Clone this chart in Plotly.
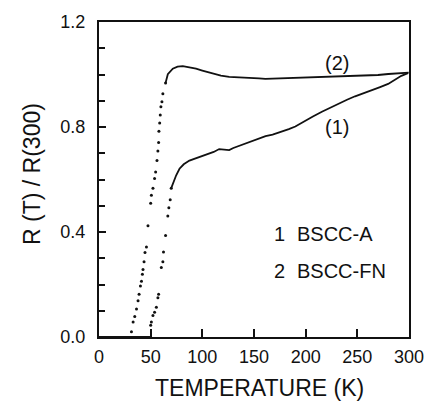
import plotly.graph_objects as go

# Curve (1) BSCC-A
T1_trans = [50.0, 50.7, 52.2, 53.8, 55.5, 57.0, 57.7, 60.3, 61.8, 62.4, 64.4, 66.6, 67.6, 68.9, 69.9]
R1_trans = [0.045, 0.057, 0.082, 0.094, 0.113, 0.150, 0.163, 0.265, 0.287, 0.324, 0.387, 0.461, 0.492, 0.523, 0.567]
T1_norm = [69.9, 72.5, 74.7, 77.9, 82.0, 87.5, 92.0, 97.1, 101.0, 106.7, 111.0, 116.3, 121.0, 126.0, 130.0, 135.6,
           142.0, 148.4, 154.8, 161.2, 168.0, 174.0, 183.7, 190.0, 199.7, 207.0, 215.7, 223.0, 231.7, 240.0, 247.8,
           256.0, 263.8, 272.0, 279.8, 286.0, 292.6, 299.0]
R1_norm = [0.567, 0.595, 0.616, 0.641, 0.658, 0.672, 0.678, 0.685, 0.690, 0.697, 0.705, 0.716, 0.713, 0.712, 0.720, 0.728,
           0.737, 0.747, 0.755, 0.765, 0.771, 0.778, 0.792, 0.802, 0.825, 0.840, 0.858, 0.872, 0.890, 0.904, 0.917,
           0.928, 0.939, 0.952, 0.964, 0.978, 0.995, 1.005]

# Curve (2) BSCC-FN
T2_trans = [31.4, 33.0, 34.6, 36.3, 37.8, 38.8, 40.1, 41.1, 42.0, 42.6, 43.6, 44.5, 45.9, 47.4, 50.0, 50.7, 52.2,
            53.8, 54.8, 56.1, 57.0, 57.7, 58.0, 58.7, 59.3, 59.9, 60.9, 61.8, 64.4]
R2_trans = [0.02, 0.057, 0.078, 0.107, 0.138, 0.163, 0.194, 0.212, 0.239, 0.257, 0.287, 0.322, 0.343, 0.424, 0.51, 0.54, 0.567,
            0.604, 0.629, 0.672, 0.709, 0.741, 0.784, 0.815, 0.846, 0.877, 0.896, 0.927, 0.968]
T2_norm = [64.4, 66.6, 71.4, 76.0, 81.1, 87.0, 93.9, 100.0, 109.9, 118.0, 126.0, 142.0, 154.8, 161.0, 175.0, 190.0,
           212.5, 230.0, 245.0, 257.4, 270.0, 280.0, 289.4, 299.7]
R2_norm = [0.968, 1.001, 1.022, 1.030, 1.032, 1.028, 1.022, 1.015, 1.004, 0.996, 0.991, 0.989, 0.985, 0.983, 0.985, 0.988,
           0.990, 0.991, 0.993, 0.995, 0.998, 1.002, 1.005, 1.007]

# Zero-resistance baselines
T1_zero = [0, 50.0]
T2_zero = [0, 31.4]
R_zero = [0, 0]

x_ticks = [0, 50, 100, 150, 200, 250, 300]
y_ticks = [0.0, 0.4, 0.8, 1.2]
y_ticktext = ["0.0", "0.4", "0.8", "1.2"]

FONT = "Liberation Sans"
BLACK = "#111111"

fig = go.Figure()

for tz in (T1_zero, T2_zero):
    fig.add_trace(go.Scatter(x=tz, y=R_zero, mode="lines", line=dict(color=BLACK, width=2), showlegend=False))

for tt, rt in ((T1_trans, R1_trans), (T2_trans, R2_trans)):
    fig.add_trace(go.Scatter(x=tt, y=rt, mode="markers", marker=dict(color=BLACK, size=3), showlegend=False))

for tn, rn in ((T1_norm, R1_norm), (T2_norm, R2_norm)):
    fig.add_trace(go.Scatter(x=tn, y=rn, mode="lines", line=dict(color=BLACK, width=1.8), showlegend=False))

fig.update_xaxes(
    range=[0, 300], tickvals=x_ticks, ticks="inside", ticklen=8, tickwidth=1.5, tickcolor=BLACK,
    showline=True, linecolor=BLACK, linewidth=2, mirror=True, showgrid=False, zeroline=False,
    tickfont=dict(family=FONT, size=18, color=BLACK), ticklabelstandoff=2,
)
fig.update_yaxes(
    range=[0, 1.2], tickvals=y_ticks, ticktext=y_ticktext, ticks="inside", ticklen=7, tickwidth=2, tickcolor=BLACK,
    minor=dict(dtick=0.1, tick0=0, ticks="inside", ticklen=6, tickwidth=1.5, tickcolor=BLACK),
    showline=True, linecolor=BLACK, linewidth=2, mirror=True, showgrid=False, zeroline=False,
    tickfont=dict(family=FONT, size=18, color=BLACK), ticklabelstandoff=8,
)

ann_font = dict(family=FONT, size=20, color=BLACK)
fig.add_annotation(x=230, y=1.045, text="(2)", showarrow=False, font=ann_font)
fig.add_annotation(x=230, y=0.80, text="(1)", showarrow=False, font=ann_font)
fig.add_annotation(x=167, y=0.391, text="1", showarrow=False, xanchor="left", font=ann_font)
fig.add_annotation(x=190, y=0.391, text="BSCC-A", showarrow=False, xanchor="left", font=ann_font)
fig.add_annotation(x=167, y=0.25, text="2", showarrow=False, xanchor="left", font=ann_font)
fig.add_annotation(x=190, y=0.25, text="BSCC-FN", showarrow=False, xanchor="left", font=ann_font)

fig.add_annotation(xref="paper", yref="paper", x=0.519, y=-0.161, xanchor="center", yanchor="middle",
                   text="TEMPERATURE (K)", showarrow=False,
                   font=dict(family=FONT, size=23, color=BLACK))
fig.add_annotation(xref="paper", yref="paper", x=-0.218, y=0.519, xanchor="center", yanchor="middle",
                   text="R (T) / R(300)", showarrow=False,
                   textangle=-90, font=dict(family=FONT, size=23, color=BLACK))

fig.update_layout(
    width=441, height=410,
    margin=dict(l=99, r=32, t=15, b=73),
    paper_bgcolor="white", plot_bgcolor="white",
    showlegend=False,
)

fig.write_html("out.html")
